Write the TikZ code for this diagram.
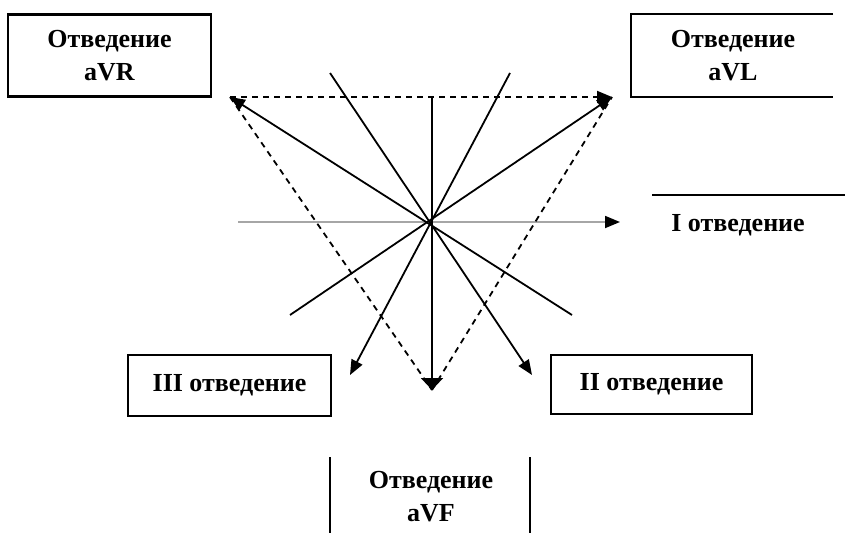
\documentclass[tikz,border=0pt]{standalone}
\usepackage{fontspec}
\setmainfont{Liberation Serif}
\usetikzlibrary{arrows.meta}
\begin{document}
\begin{tikzpicture}[x=1pt,y=-1pt,
  lbl/.style={font=\bfseries\fontsize{26}{33}\selectfont, align=center, inner sep=0pt},
  framebox/.style={draw, line width=2.2pt, rectangle, inner sep=0pt},
  frameline/.style={line width=2.2pt},
  tip/.style={-{Triangle[length=15pt,width=12pt]}},
  vec/.style={line width=1.8pt, tip},
  axisline/.style={line width=1.8pt, draw=black!35, -{Triangle[length=15pt,width=12pt,fill=black,color=black]}},
  dashline/.style={line width=1.8pt, dash pattern=on 6pt off 5pt},
  dashvec/.style={line width=1.8pt, dash pattern=on 6pt off 5pt, tip},
  downvec/.style={line width=2pt, -{Triangle[length=12pt,width=22pt]}}]
\useasboundingbox (0,0) rectangle (845,533);

% labels and boxes
\node[framebox, lbl, minimum width=203pt, minimum height=82pt] (avr) at (109.5,55.5) {Отведение\\aVR};
\node[lbl] (avl) at (733,56) {Отведение\\aVL};
\draw[frameline] (833,14) -- (631,14) -- (631,97) -- (833,97);
\node[lbl] (lead1) at (738,225) {I отведение};
\draw[frameline] (652,195) -- (845,195);
\node[framebox, lbl, minimum width=203pt, minimum height=61pt] (lead3) at (229.5,385.5) {III отведение};
\node[framebox, lbl, minimum width=201pt, minimum height=59pt] (lead2) at (651.5,384.5) {II отведение};
\node[lbl] (avf) at (431,497) {Отведение\\aVF};
\draw[frameline] (330,457) -- (330,533);
\draw[frameline] (530,457) -- (530,533);

% vector points
\coordinate (c) at (432,222);
\coordinate (tavr) at (230,97);
\coordinate (tavl) at (612,97);
\coordinate (bot) at (432,390);
\coordinate (endl) at (290,315);
\coordinate (endr) at (572,315);
\coordinate (topl) at (330,73);
\coordinate (topr) at (510,73);
\coordinate (tiii) at (350,375);
\coordinate (tii) at (532,375);
\coordinate (hl) at (238,222);
\coordinate (hr) at (620,222);
\coordinate (vt) at (432,96);

% axis
\draw[axisline] (hl) -- (hr);

% dashed triangle
\draw[dashvec] (tavr) -- (tavl);
\draw[dashline] (tavr) -- (bot);
\draw[dashline] (bot) -- (tavl);

% solid vectors
\draw[vec] (endl) -- (tavl);
\draw[vec] (endr) -- (tavr);
\draw[vec] (topr) -- (tiii);
\draw[vec] (topl) -- (tii);
\draw[downvec] (vt) -- (bot);
\end{tikzpicture}
\end{document}
